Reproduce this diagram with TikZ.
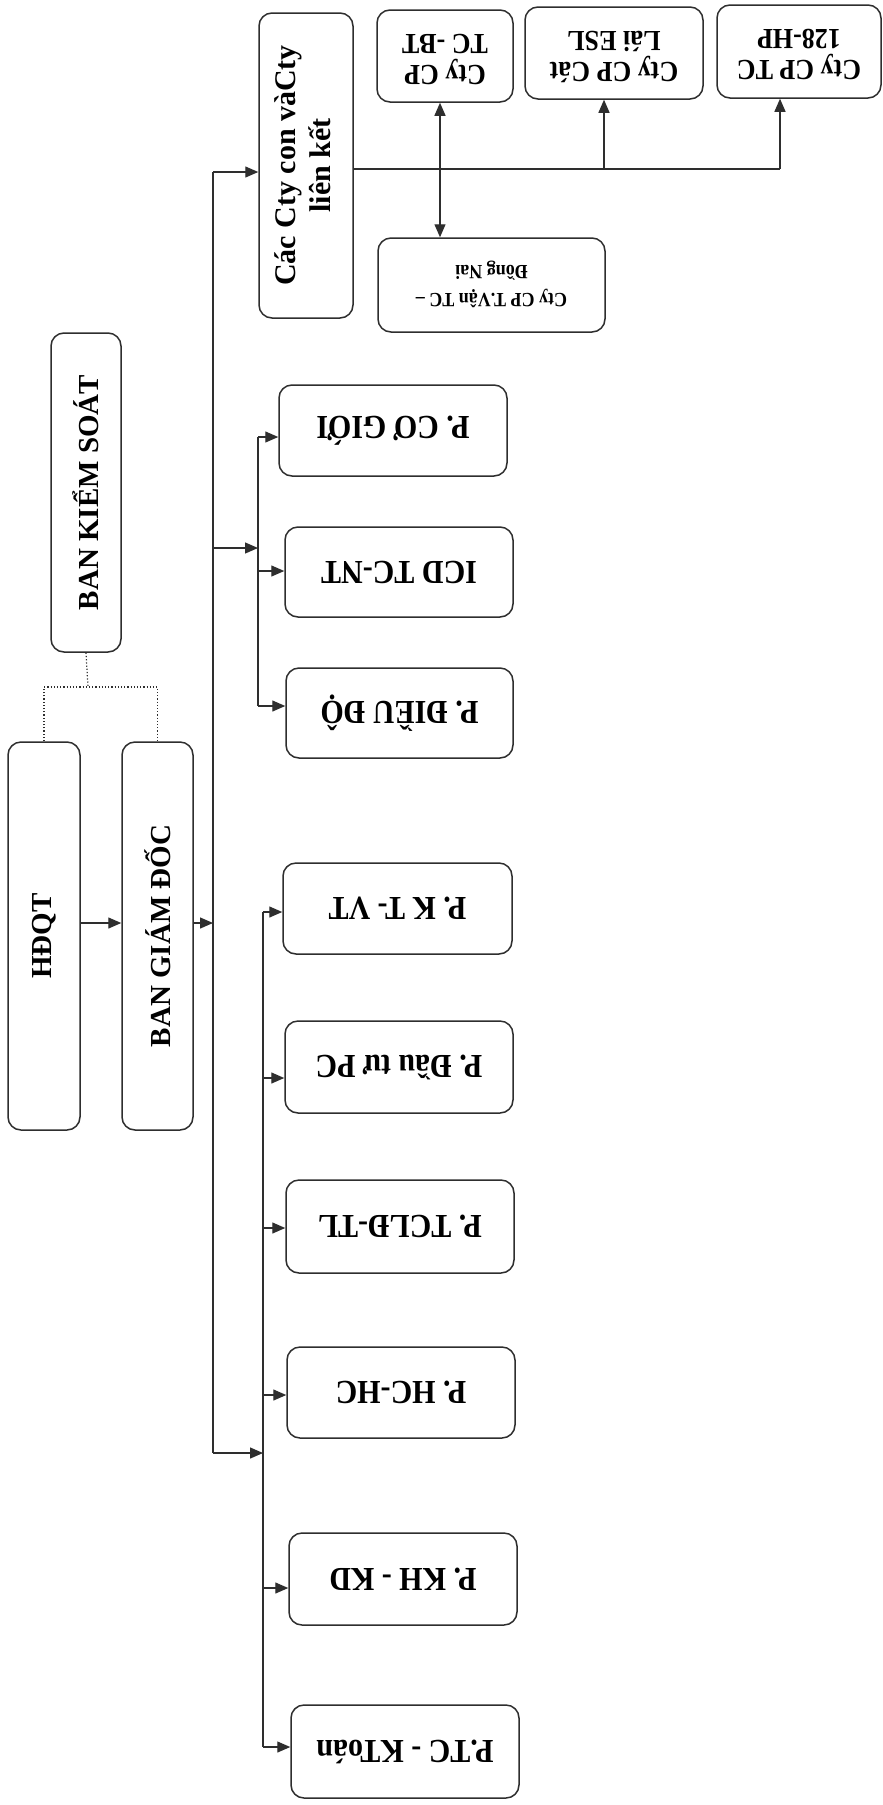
\documentclass[tikz,border=0pt]{standalone}
\usepackage{fontspec}
\usepackage{graphicx}
\setmainfont{Liberation Serif}
\usetikzlibrary{arrows.meta,calc}
\definecolor{ink}{HTML}{2E2E2E}
\tikzset{
  box/.style={draw=ink, line width=1.5pt, rounded corners=13pt, fill=white, inner sep=0pt, text=black, font=\bfseries},
  conn/.style={draw=ink, line width=1.3pt},
  arr/.style={conn, -{Triangle[length=13pt,width=11pt]}},
  darr/.style={conn, {Triangle[length=13pt,width=11pt]}-{Triangle[length=13pt,width=11pt]}},
  dot/.style={draw=ink, line width=1.2pt, dotted},
  leftfont/.style={font=\bfseries\fontsize{29}{34}\selectfont},
  deptfont/.style={font=\bfseries\fontsize{30}{34}\selectfont},
  ctyfont/.style={font=\bfseries\fontsize{26}{28}\selectfont},
}
\newcommand{\upd}[1]{\rotatebox{180}{\scalebox{1}[1.12]{#1}}}
\newcommand{\vup}[1]{\rotatebox{90}{#1}}
\begin{document}
\begin{tikzpicture}[x=1pt,y=-1pt]
\useasboundingbox (0,0) rectangle (883,1805);
\fill[white] (0,0) rectangle (883,1805);

% left column
\node[box, leftfont, minimum width=70pt, minimum height=319pt] (bks) at (86,492.5) {\vup{BAN KIỂM SOÁT}};
\node[box, leftfont, minimum width=72pt, minimum height=388pt] (hdqt) at (44,936) {\vup{HĐQT}};
\node[box, leftfont, minimum width=71pt, minimum height=388pt] (bgd) at (157.5,936) {\vup{BAN GIÁM ĐỐC}};

% subsidiaries
\node[box, font=\bfseries\fontsize{30}{35}\selectfont, minimum width=94pt, minimum height=305pt] (cc) at (306,165.5)
  {\vup{\begin{tabular}{@{}c@{}}Các Cty con vàCty\\liên kết\end{tabular}}};
\node[box, ctyfont, minimum width=136pt, minimum height=92pt] (bt) at (445,56)
  {\upd{\begin{tabular}{@{}c@{}}Cty CP\\TC -BT\end{tabular}}};
\node[box, ctyfont, minimum width=178pt, minimum height=92pt] (cl) at (614,53)
  {\upd{\begin{tabular}{@{}c@{}}Cty CP Cát\\Lái ESL\end{tabular}}};
\node[box, ctyfont, minimum width=164pt, minimum height=93pt] (hp) at (799,51.5)
  {\upd{\begin{tabular}{@{}c@{}}Cty CP TC\\128-HP\end{tabular}}};
\node[box, font=\bfseries\fontsize{18}{25}\selectfont, minimum width=227pt, minimum height=94pt] (dn) at (491.5,285)
  {\upd{\begin{tabular}{@{}c@{}}Cty CP T.Vận TC –\\Đồng Nai\end{tabular}}};

% departments (upper group)
\node[box, deptfont, minimum width=228pt, minimum height=91pt] (cg) at (393,430.5) {\upd{P. CƠ GIỚI}};
\node[box, deptfont, minimum width=228pt, minimum height=90pt] (icd) at (399,572) {\upd{ICD TC-NT}};
\node[box, deptfont, minimum width=227pt, minimum height=90pt] (dd) at (399.5,713) {\upd{P. ĐIỀU ĐỘ}};

% departments (lower group)
\node[box, deptfont, minimum width=229pt, minimum height=91pt] (kt) at (397.5,908.5) {\upd{P. K T- VT}};
\node[box, deptfont, minimum width=228pt, minimum height=92pt] (dt) at (399,1067) {\upd{P. Đầu tư PC}};
\node[box, deptfont, minimum width=228pt, minimum height=93pt] (tl) at (400,1226.5) {\upd{P. TCLĐ-TL}};
\node[box, deptfont, minimum width=228pt, minimum height=91pt] (hc) at (401,1392.5) {\upd{P. HC-HC}};
\node[box, deptfont, minimum width=228pt, minimum height=92pt] (kd) at (403,1579) {\upd{P. KH - KD}};
\node[box, deptfont, minimum width=228pt, minimum height=93pt] (kto) at (405,1751.5) {\upd{P.TC - KToán}};

% bus coordinates
\coordinate (busTop) at (213,172);
\coordinate (b0) at (213,923);
\coordinate (b1) at (213,548);
\coordinate (busBot) at (213,1453);
\coordinate (s1top) at (258,437);
\coordinate (s1mid) at (258,548);
\coordinate (s1icd) at (258,571);
\coordinate (s1bot) at (258,706);
\coordinate (s2top) at (263,912);
\coordinate (s2dt) at (263,1078);
\coordinate (s2tl) at (263,1228);
\coordinate (s2hc) at (263,1395);
\coordinate (s2mid) at (263,1453);
\coordinate (s2kd) at (263,1588);
\coordinate (s2bot) at (263,1747);
\coordinate (h1) at (604,169);
\coordinate (h2) at (780,169);
\coordinate (dj) at (88,687);

% dotted links
\draw[dot] (bks.south) -- (dj);
\draw[dot] (hdqt.north) |- (dj) -| (bgd.north);

% main flow
\draw[arr] (hdqt.east |- b0) -- (bgd.west |- b0);
\draw[arr] (bgd.east |- b0) -- (b0);
\draw[conn] (busTop) -- (busBot);
\draw[arr] (busTop) -- (busTop -| cc.west);
\draw[arr] (b1) -- (s1mid);
\draw[arr] (busBot) -- (s2mid);

% upper sub-bus
\draw[conn] (s1top) -- (s1bot);
\draw[arr] (s1top) -- (s1top -| cg.west);
\draw[arr] (s1icd) -- (s1icd -| icd.west);
\draw[arr] (s1bot) -- (s1bot -| dd.west);

% lower sub-bus
\draw[conn] (s2top) -- (s2bot);
\draw[arr] (s2top) -- (s2top -| kt.west);
\draw[arr] (s2dt) -- (s2dt -| dt.west);
\draw[arr] (s2tl) -- (s2tl -| tl.west);
\draw[arr] (s2hc) -- (s2hc -| hc.west);
\draw[arr] (s2kd) -- (s2kd -| kd.west);
\draw[arr] (s2bot) -- (s2bot -| kto.west);

% subsidiaries links
\draw[conn] (cc.east |- h2) -- (h2);
\draw[arr] (h1) -- (h1 |- cl.south);
\draw[arr] (h2) -- (h2 |- hp.south);
\draw[darr] (bt.south -| 440,0) -- (dn.north -| 440,0);
\end{tikzpicture}
\end{document}
